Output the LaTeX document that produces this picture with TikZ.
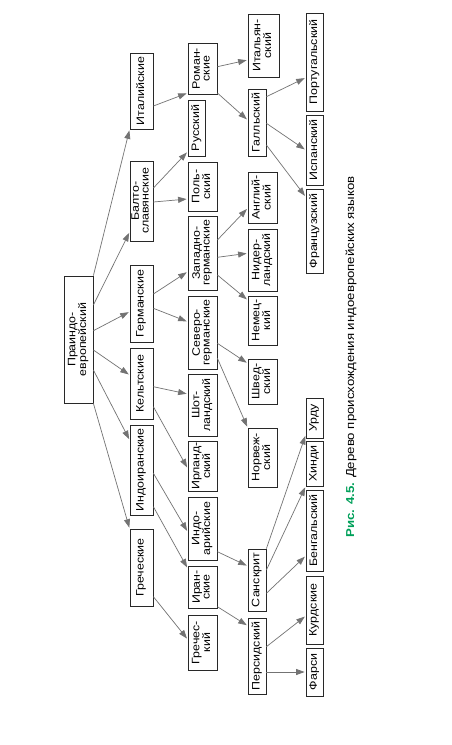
\documentclass[tikz,border=0pt]{standalone}
\usepackage{fontspec}
\setmainfont{Liberation Sans}
\usepackage{graphicx}
\usetikzlibrary{arrows.meta}
\definecolor{capgreen}{RGB}{0,160,90}
\definecolor{linegray}{RGB}{115,115,115}
\definecolor{boxline}{RGB}{40,40,40}
\newcommand{\vtxt}[1]{\rotatebox{90}{\scalebox{1.15}[1]{\begin{tabular}{@{}c@{}}#1\end{tabular}}}}
\begin{document}
\begin{tikzpicture}[x=1pt,y=-1pt,
  box/.style={draw=boxline, line width=0.8pt, inner sep=0pt, fill=white,
    font=\fontsize{10.8}{9.8}\selectfont},
  arr/.style={draw=linegray, line width=0.7pt, -{Triangle[length=8.5pt,width=6pt]}, shorten >=1pt}]
\fill[white] (0,0) rectangle (451,745);
\useasboundingbox (0,0) rectangle (451,745);
% root
\node[box, minimum width=29pt, minimum height=127pt] (P) at (78.5,339.5) {\vtxt{Праиндо-\\европейский}};
% column 1
\node[box, minimum width=23pt, minimum height=76pt] (It) at (141.5,91) {\vtxt{Италийские}};
\node[box, minimum width=23pt, minimum height=80pt] (Bs) at (141.5,201) {\vtxt{Балто-\\славянские}};
\node[box, minimum width=23pt, minimum height=77pt] (Ge) at (141.5,303.5) {\vtxt{Германские}};
\node[box, minimum width=23pt, minimum height=71pt] (Ke) at (141.5,383.5) {\vtxt{Кельтские}};
\node[box, minimum width=23pt, minimum height=90pt] (Ii) at (141.5,470) {\vtxt{Индоиранские}};
\node[box, minimum width=23pt, minimum height=77pt] (Gr) at (141.5,567.5) {\vtxt{Греческие}};
% column 2
\node[box, minimum width=29pt, minimum height=51pt] (Ro) at (202.5,68.5) {\vtxt{Роман-\\ские}};
\node[box, minimum width=17pt, minimum height=56pt] (Ru) at (196.5,128) {\vtxt{Русский}};
\node[box, minimum width=29pt, minimum height=49pt] (Po) at (202.5,186.5) {\vtxt{Поль-\\ский}};
\node[box, minimum width=29pt, minimum height=74pt] (Wg) at (202.5,253) {\vtxt{Западно-\\германские}};
\node[box, minimum width=29pt, minimum height=73pt] (Ng) at (202.5,332.5) {\vtxt{Северо-\\германские}};
\node[box, minimum width=29pt, minimum height=62pt] (Sc) at (202.5,405) {\vtxt{Шот-\\ландский}};
\node[box, minimum width=29pt, minimum height=50pt] (Ir) at (202.5,466) {\vtxt{Ирланд-\\ский}};
\node[box, minimum width=29pt, minimum height=63pt] (Ia) at (202.5,528.5) {\vtxt{Индо-\\арийские}};
\node[box, minimum width=29pt, minimum height=42pt] (Ira) at (202.5,587) {\vtxt{Иран-\\ские}};
\node[box, minimum width=29pt, minimum height=55pt] (Grk) at (202.5,642.5) {\vtxt{Гречес-\\кий}};
% column 3
\node[box, minimum width=31pt, minimum height=63pt] (Ita) at (263.5,45.5) {\vtxt{Итальян-\\ский}};
\node[box, minimum width=18pt, minimum height=67pt] (Ga) at (257,122.5) {\vtxt{Галльский}};
\node[box, minimum width=29pt, minimum height=51pt] (En) at (262.5,197.5) {\vtxt{Англий-\\ский}};
\node[box, minimum width=29pt, minimum height=62pt] (Nl) at (262.5,260) {\vtxt{Нидер-\\ландский}};
\node[box, minimum width=29pt, minimum height=49pt] (De) at (262.5,320.5) {\vtxt{Немец-\\кий}};
\node[box, minimum width=29pt, minimum height=45pt] (Sw) at (262.5,381.5) {\vtxt{Швед-\\ский}};
\node[box, minimum width=29pt, minimum height=59pt] (No) at (262.5,457.5) {\vtxt{Норвеж-\\ский}};
\node[box, minimum width=18pt, minimum height=62pt] (Sa) at (257,580) {\vtxt{Санскрит}};
\node[box, minimum width=18pt, minimum height=76pt] (Pe) at (257,656) {\vtxt{Персидский}};
% column 4
\node[box, minimum width=17pt, minimum height=98pt] (Pt) at (314.5,62) {\vtxt{Португальский}};
\node[box, minimum width=17pt, minimum height=70pt] (Es) at (314.5,150) {\vtxt{Испанский}};
\node[box, minimum width=17pt, minimum height=84pt] (Fr) at (314.5,231) {\vtxt{Французский}};
\node[box, minimum width=17pt, minimum height=40pt] (Ur) at (314.5,418) {\vtxt{Урду}};
\node[box, minimum width=17pt, minimum height=45pt] (Hi) at (314.5,463.5) {\vtxt{Хинди}};
\node[box, minimum width=17pt, minimum height=81pt] (Bn) at (314.5,530.5) {\vtxt{Бенгальский}};
\node[box, minimum width=17pt, minimum height=68pt] (Ku) at (314.5,610) {\vtxt{Курдские}};
\node[box, minimum width=17pt, minimum height=48pt] (Fa) at (314.5,672) {\vtxt{Фарси}};
% caption
\node[anchor=south, inner sep=0pt, font=\fontsize{11.5}{10}\selectfont] (cap) at (351,538)
  {\rotatebox{90}{\scalebox{1.15}[1]{\textcolor{capgreen}{\bfseries Рис. 4.5.} Дерево происхождения индоевропейских языков}}};
% connectors
\draw[arr] (P.north east) -- (It.south west);
\draw[arr] ([yshift=34.5pt]P.east) -- ([yshift=-31pt]Bs.west);
\draw[arr] ([yshift=8.8pt]P.east) -- ([yshift=-8.2pt]Ge.west);
\draw[arr] ([yshift=-10.5pt]P.east) -- ([yshift=8.5pt]Ke.west);
\draw[arr] ([yshift=-30.5pt]P.east) -- ([yshift=30pt]Ii.west);
\draw[arr] (P.south east) -- (Gr.north west);
\draw[arr] ([yshift=-15pt]It.east) -- ([yshift=-24.5pt]Ro.west);
\draw[arr] ([yshift=13pt]Bs.east) -- ([yshift=-23.7pt]Ru.west);
\draw[arr] ([yshift=-1pt]Bs.east) -- ([yshift=-12.5pt]Po.west);
\draw[arr] ([yshift=9.5pt]Ge.east) -- ([yshift=-18.7pt]Wg.west);
\draw[arr] ([yshift=-4.8pt]Ge.east) -- ([yshift=10.8pt]Ng.west);
\draw[arr] ([yshift=-3.2pt]Ke.east) -- ([yshift=11pt]Sc.west);
\draw[arr] ([yshift=-23.2pt]Ke.east) -- ([yshift=-2.3pt]Ir.west);
\draw[arr] ([yshift=-3.3pt]Ii.east) -- ([yshift=-3.2pt]Ia.west);
\draw[arr] ([yshift=-36.7pt]Ii.east) -- ([yshift=18.7pt]Ira.west);
\draw[arr] ([yshift=-29.2pt]Gr.east) -- ([yshift=3.2pt]Grk.west);
\draw[arr] ([yshift=1.8pt]Ro.east) -- ([yshift=-14.5pt]Ita.west);
\draw[arr] ([yshift=-24.5pt]Ro.east) -- ([yshift=2.5pt]Ga.west);
\draw[arr] ([yshift=25.8pt]Ga.east) -- ([yshift=-15.7pt]Pt.west);
\draw[arr] ([yshift=-0.8pt]Ga.east) -- (Es.west);
\draw[arr] ([yshift=-22.5pt]Ga.east) -- ([yshift=34.3pt]Fr.west);
\draw[arr] ([yshift=13pt]Wg.east) -- ([yshift=-10.8pt]En.west);
\draw[arr] ([yshift=-4.3pt]Wg.east) -- ([yshift=6.7pt]Nl.west);
\draw[arr] ([yshift=-22pt]Wg.east) -- ([yshift=20.5pt]De.west);
\draw[arr] ([yshift=-10.8pt]Ng.east) -- ([yshift=18.2pt]Sw.west);
\draw[arr] ([yshift=-25.8pt]Ng.east) -- (No.north west);
\draw[arr] ([yshift=-23.2pt]Ia.east) -- ([yshift=14pt]Sa.west);
\draw[arr] ([yshift=-19.7pt]Ira.east) -- ([yshift=30.3pt]Pe.west);
\draw[arr] (Sa.north east) -- ([yshift=-17pt]Ur.west);
\draw[arr] ([yshift=10pt]Sa.east) -- (Hi.south west);
\draw[arr] ([yshift=-13.3pt]Sa.east) -- ([yshift=-25.5pt]Bn.west);
\draw[arr] ([yshift=9.3pt]Pe.east) -- ([yshift=-6pt]Ku.west);
\draw[arr] ([yshift=-16pt]Pe.east) -- (Fa.west);
\end{tikzpicture}
\end{document}
